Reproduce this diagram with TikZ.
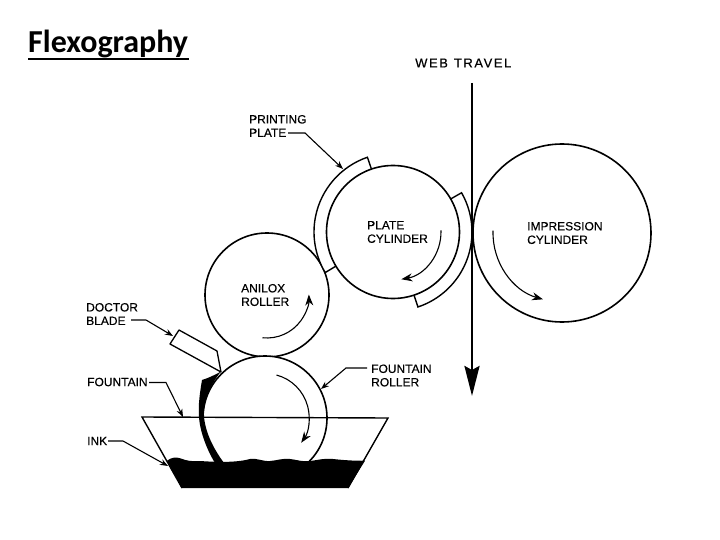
\documentclass[tikz,border=0pt]{standalone}
\usepackage{fontspec}
\setmainfont[FakeBold=0.3]{Liberation Sans}
\newfontfamily\labfont[FakeBold=0.3]{Liberation Sans}
\newfontfamily\titlefont{Carlito}
\newfontfamily\spacedfont[LetterSpace=12,FakeBold=0.3]{Liberation Sans}
\usetikzlibrary{arrows.meta,calc}
\tikzset{
  lab/.style={anchor=west,align=left,inner sep=0pt,font=\labfont\fontsize{12}{13.5}\selectfont},
  roll/.style={draw=black,line width=1.6pt,fill=white},
  leader/.style={draw=black,line width=1.1pt,-{Stealth[length=8pt,width=6pt]}},
  rot/.style={draw=black,line width=1.1pt,-{Stealth[length=11pt,width=8pt]}},
  plateshape/.style={draw=black,line width=1.4pt,fill=white},
}
\begin{document}
\begin{tikzpicture}[x=1pt,y=-1pt]
\useasboundingbox (0,0) rectangle (720,540);
\fill[white] (0,0) rectangle (720,540);
\node[anchor=west,inner sep=0pt,font=\titlefont\bfseries\fontsize{32}{34}\selectfont] (title) at (28,44) {Flexography};
\draw[line width=1.8pt] (28,59) -- (189,59);
% centres
\coordinate (pc) at (393,232);
\coordinate (ic) at (562,233);
\coordinate (ac) at (267,295);
\coordinate (fc) at (265,418);
% impression and anilox
\node[roll,circle,minimum size=178pt,inner sep=0pt] (imp) at (ic) {};
\node[roll,circle,minimum size=124pt,inner sep=0pt] (ani) at (ac) {};
% plates
\path[plateshape] ($(pc)+(108.9:79pt)$) arc[start angle=108.9,end angle=210.9,radius=79pt]
  -- ($(pc)+(210.9:60pt)$) -- ($(pc)+(108.9:60pt)$) -- cycle;
\path[plateshape] ($(pc)+(29.8:79pt)$) arc[start angle=29.8,end angle=-71.6,radius=79pt]
  -- ($(pc)+(-71.6:60pt)$) -- ($(pc)+(29.8:60pt)$) -- cycle;
\node[roll,circle,minimum size=133pt,inner sep=0pt] (plate) at (pc) {};
% doctor blade
\draw[line width=1.3pt,fill=white,line join=round] (179,330) -- (170,344) -- (221,372) -- (217,351) -- cycle;
% fountain roller
\node[roll,circle,minimum size=124pt,inner sep=0pt] (fou) at (fc) {};
% ink crescent
\fill[black] (221,371.5) .. controls (213,376) and (208,378) .. (202,380)
  .. controls (200,392) and (198,405) .. (199,417)
  .. controls (200,432) and (207,450) .. (215,463) -- (224,463)
  .. controls (216,452) and (206,436) .. (204,417)
  .. controls (203,402) and (210,385) .. (221,371.5) -- cycle;
% tray
\draw[line width=1.4pt] (182,488) -- (142,417) -- (388,418) -- (348,488);
% ink
\fill[black] (167,460.7) .. controls (172,457) and (176,457) .. (181,458.5)
  .. controls (187,461) and (192,461.5) .. (200,461)
  .. controls (215,462) and (235,463) .. (250,459)
  .. controls (258,458) and (262,461.5) .. (270,461)
  .. controls (277,460.5) and (283,458) .. (290,459)
  .. controls (298,460) and (303,462) .. (310,461)
  .. controls (318,460) and (325,458) .. (333,459)
  .. controls (342,460) and (355,461) .. (365,460.7)
  -- (348,488) -- (182,488) -- cycle;
% web
\coordinate (webtop) at (472,83);
\coordinate (webend) at (472,396);
\draw[line width=2.8pt,-{Stealth[length=30pt,width=15pt,inset=4pt]}] (webtop) -- (webend);
% rotation arrows
\draw[rot] ($(pc)+(2:48pt)$) arc[start angle=2,end angle=-80,radius=48pt];
\draw[rot] ($(ic)+(178:69pt)$) arc[start angle=178,end angle=254,radius=69pt];
\draw[rot] ($(ac)+(-96:43pt)$) arc[start angle=-96,end angle=2,radius=42pt];
\draw[rot] ($(fc)+(75:44.5pt)$) arc[start angle=75,end angle=-35,radius=44pt];
% labels
\node[inner sep=0pt,anchor=west,font=\spacedfont\fontsize{13}{14}\selectfont] (web) at (415,63) {WEB\hspace{6pt}TRAVEL};
\node[lab] (pp) at (249,126) {PRINTING\\PLATE};
\node[lab] (pcl) at (367,232) {PLATE\\CYLINDER};
\node[lab] (icl) at (527,233) {IMPRESSION\\CYLINDER};
\node[lab] (acl) at (241,295) {ANILOX\\ROLLER};
\node[lab] (db) at (86,314) {DOCTOR\\BLADE};
\node[lab] (fl) at (87,382) {FOUNTAIN};
\node[lab] (il) at (87,441) {INK};
\node[lab] (fr) at (371,375.5) {FOUNTAIN\\ROLLER};
% leaders
\coordinate (a1) at (343,169);
\coordinate (a2) at (173,336);
\coordinate (a3) at (183,417);
\coordinate (a4) at (168,466);
\coordinate (a5) at (321,389);
\draw[leader] (288,133) -- (305,133) -- (a1);
\draw[leader] (131,320) -- (146,320) -- (a2);
\draw[leader] (149,382.5) -- (166,382.5) -- (a3);
\draw[leader] (108,441) -- (123,441) -- (a4);
\draw[leader] (367,368) -- (346,368) -- (a5);
\end{tikzpicture}
\end{document}
